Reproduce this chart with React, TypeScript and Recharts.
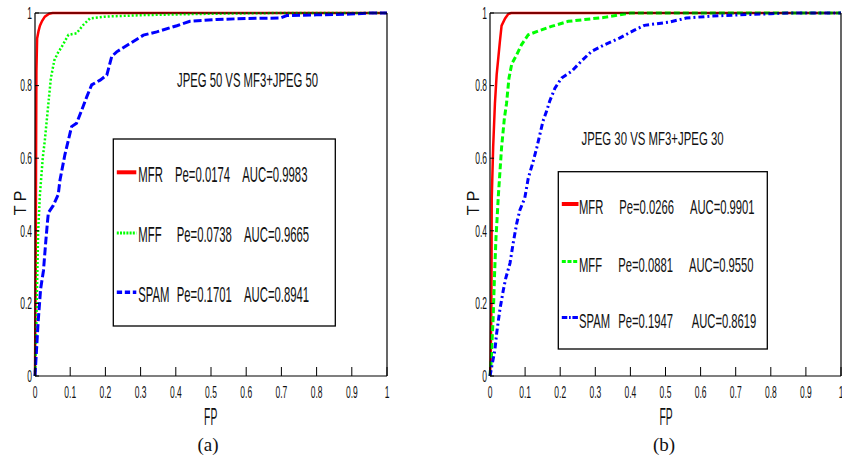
import React from "react";
import { LineChart, Line, XAxis, YAxis } from "recharts";

// axis ticks
const fpTicks = [0, 0.1, 0.2, 0.3, 0.4, 0.5, 0.6, 0.7, 0.8, 0.9, 1];
const tpTicks = [0, 0.2, 0.4, 0.6, 0.8, 1];

// (a) JPEG 50 VS MF3+JPEG 50
const mfrA = [
  { fp: 0, tp: 0 }, { fp: 0.002, tp: 0.3 }, { fp: 0.003, tp: 0.6 }, { fp: 0.004, tp: 0.84 },
  { fp: 0.006, tp: 0.93 }, { fp: 0.01, tp: 0.95 }, { fp: 0.014, tp: 0.965 }, { fp: 0.02, tp: 0.978 },
  { fp: 0.028, tp: 0.99 }, { fp: 0.04, tp: 0.998 }, { fp: 0.05, tp: 1 }, { fp: 1, tp: 1 },
];
const mffA = [
  { fp: 0, tp: 0 }, { fp: 0.003, tp: 0.1 }, { fp: 0.005, tp: 0.2 }, { fp: 0.007, tp: 0.3 },
  { fp: 0.009, tp: 0.4 }, { fp: 0.014, tp: 0.5 }, { fp: 0.022, tp: 0.6 }, { fp: 0.028, tp: 0.65 },
  { fp: 0.035, tp: 0.72 }, { fp: 0.04, tp: 0.77 }, { fp: 0.045, tp: 0.82 }, { fp: 0.055, tp: 0.87 },
  { fp: 0.065, tp: 0.89 }, { fp: 0.076, tp: 0.907 }, { fp: 0.095, tp: 0.94 }, { fp: 0.118, tp: 0.944 },
  { fp: 0.137, tp: 0.967 }, { fp: 0.156, tp: 0.985 }, { fp: 0.2, tp: 0.99 }, { fp: 0.3, tp: 0.994 },
  { fp: 0.5, tp: 0.998 }, { fp: 0.7, tp: 1 }, { fp: 1, tp: 1 },
];
const spamA = [
  { fp: 0, tp: 0 }, { fp: 0.003, tp: 0.05 }, { fp: 0.009, tp: 0.15 }, { fp: 0.016, tp: 0.24 },
  { fp: 0.024, tp: 0.29 }, { fp: 0.031, tp: 0.375 }, { fp: 0.035, tp: 0.42 }, { fp: 0.038, tp: 0.45 },
  { fp: 0.052, tp: 0.47 }, { fp: 0.066, tp: 0.5 }, { fp: 0.071, tp: 0.54 }, { fp: 0.085, tp: 0.61 },
  { fp: 0.104, tp: 0.687 }, { fp: 0.118, tp: 0.696 }, { fp: 0.133, tp: 0.733 }, { fp: 0.147, tp: 0.769 },
  { fp: 0.161, tp: 0.802 }, { fp: 0.185, tp: 0.815 }, { fp: 0.204, tp: 0.829 }, { fp: 0.218, tp: 0.88 },
  { fp: 0.232, tp: 0.893 }, { fp: 0.27, tp: 0.916 }, { fp: 0.308, tp: 0.939 }, { fp: 0.346, tp: 0.948 },
  { fp: 0.403, tp: 0.965 }, { fp: 0.44, tp: 0.977 }, { fp: 0.516, tp: 0.982 }, { fp: 0.6, tp: 0.985 },
  { fp: 0.696, tp: 0.986 }, { fp: 0.715, tp: 0.993 }, { fp: 0.8, tp: 0.995 }, { fp: 0.895, tp: 0.997 },
  { fp: 0.95, tp: 1 }, { fp: 1, tp: 1 },
];

// (b) JPEG 30 VS MF3+JPEG 30
const mfrB = [
  { fp: 0, tp: 0 }, { fp: 0.002, tp: 0.05 }, { fp: 0.004, tp: 0.2 }, { fp: 0.005, tp: 0.49 },
  { fp: 0.009, tp: 0.63 }, { fp: 0.014, tp: 0.75 }, { fp: 0.019, tp: 0.83 }, { fp: 0.024, tp: 0.88 },
  { fp: 0.028, tp: 0.92 }, { fp: 0.033, tp: 0.965 }, { fp: 0.043, tp: 0.985 }, { fp: 0.052, tp: 0.997 },
  { fp: 0.06, tp: 1 }, { fp: 1, tp: 1 },
];
const mffB = [
  { fp: 0, tp: 0 }, { fp: 0.004, tp: 0.05 }, { fp: 0.006, tp: 0.1 }, { fp: 0.009, tp: 0.16 },
  { fp: 0.013, tp: 0.28 }, { fp: 0.017, tp: 0.38 }, { fp: 0.02, tp: 0.43 }, { fp: 0.024, tp: 0.5 },
  { fp: 0.033, tp: 0.63 }, { fp: 0.041, tp: 0.71 }, { fp: 0.047, tp: 0.75 }, { fp: 0.054, tp: 0.82 },
  { fp: 0.062, tp: 0.86 }, { fp: 0.076, tp: 0.885 }, { fp: 0.09, tp: 0.913 }, { fp: 0.109, tp: 0.94 },
  { fp: 0.137, tp: 0.95 }, { fp: 0.175, tp: 0.963 }, { fp: 0.223, tp: 0.977 }, { fp: 0.27, tp: 0.982 },
  { fp: 0.327, tp: 0.988 }, { fp: 0.37, tp: 0.995 }, { fp: 0.4, tp: 1 }, { fp: 1, tp: 1 },
];
const spamB = [
  { fp: 0, tp: 0 }, { fp: 0.005, tp: 0.026 }, { fp: 0.014, tp: 0.072 }, { fp: 0.019, tp: 0.118 },
  { fp: 0.028, tp: 0.182 }, { fp: 0.038, tp: 0.237 }, { fp: 0.045, tp: 0.27 }, { fp: 0.057, tp: 0.311 },
  { fp: 0.066, tp: 0.366 }, { fp: 0.076, tp: 0.42 }, { fp: 0.085, tp: 0.457 }, { fp: 0.099, tp: 0.49 },
  { fp: 0.109, tp: 0.545 }, { fp: 0.123, tp: 0.591 }, { fp: 0.133, tp: 0.628 }, { fp: 0.142, tp: 0.665 },
  { fp: 0.151, tp: 0.702 }, { fp: 0.161, tp: 0.729 }, { fp: 0.17, tp: 0.757 }, { fp: 0.185, tp: 0.793 },
  { fp: 0.204, tp: 0.821 }, { fp: 0.232, tp: 0.839 }, { fp: 0.26, tp: 0.867 }, { fp: 0.289, tp: 0.894 },
  { fp: 0.327, tp: 0.913 }, { fp: 0.369, tp: 0.931 }, { fp: 0.41, tp: 0.952 }, { fp: 0.44, tp: 0.966 },
  { fp: 0.511, tp: 0.975 }, { fp: 0.559, tp: 0.986 }, { fp: 0.625, tp: 0.991 }, { fp: 0.71, tp: 0.995 },
  { fp: 0.8, tp: 0.998 }, { fp: 0.85, tp: 1 }, { fp: 1, tp: 1 },
];

const methods = ["MFR", "MFF", "SPAM"];
const peA = ["0.0174", "0.0738", "0.1701"];
const aucA = ["0.9983", "0.9665", "0.8941"];
const peB = ["0.0266", "0.0881", "0.1947"];
const aucB = ["0.9901", "0.9550", "0.8619"];
const titleA = "JPEG 50 VS MF3+JPEG 50";
const titleB = "JPEG 30 VS MF3+JPEG 30";

const RED = "#ff0000";
const GREEN = "#00ff00";
const BLUE = "#0000ff";
const SANS = "'Liberation Sans', Arial, sans-serif";
const INK = "#111";

const stylesA = [
  { stroke: RED, w: 2.5, dash: undefined, legW: 4, legDash: undefined },
  { stroke: GREEN, w: 2.5, dash: "2 2", legW: 3, legDash: "2 1.2" },
  { stroke: BLUE, w: 3, dash: "8 3", legW: 3.5, legDash: "5.3 2.7" },
];
const stylesB = [
  { stroke: RED, w: 2.5, dash: undefined, legW: 4, legDash: undefined },
  { stroke: GREEN, w: 3, dash: "6 3", legW: 3, legDash: "4 1.7" },
  { stroke: BLUE, w: 3, dash: "6 3 2 3", legW: 3, legDash: "5.5 1.7 1.7 1.7" },
];

// the source figure is squeezed sideways, so text is scaled on x only
const SqText = ({ x, y, size, s, anchor = "start", children }: any) => (
  <text
    transform={`translate(${x},${y}) scale(${s},1)`}
    fontSize={size}
    fontFamily={SANS}
    textAnchor={anchor}
    fill={INK}
  >
    {children}
  </text>
);

const XTick = (p: any) => (
  <SqText x={p.x} y={p.y + 12} size={16} s={0.53} anchor="middle">
    {String(p.payload.value)}
  </SqText>
);

const YTick = (p: any) => (
  <SqText x={p.x} y={p.y + 5.8} size={16} s={0.53} anchor="end">
    {String(p.payload.value)}
  </SqText>
);

const axisLine = { stroke: "#000", strokeWidth: 1.2 };
const tickLine = { stroke: "#000", strokeWidth: 1 };

function Panel({ left, width, margin, series, styles }: any) {
  return (
    <div style={{ position: "absolute", left, top: 0 }}>
      <LineChart width={width} height={458} margin={margin}>
        <XAxis
          xAxisId="b"
          dataKey="fp"
          type="number"
          domain={[0, 1]}
          ticks={fpTicks}
          interval={0}
          height={30}
          tickSize={-9}
          tickMargin={19}
          axisLine={axisLine}
          tickLine={tickLine}
          tick={(p: any) => <XTick {...p} />}
        />
        <XAxis
          xAxisId="t"
          orientation="top"
          type="number"
          domain={[0, 1]}
          ticks={fpTicks}
          interval={0}
          height={5}
          tickSize={-7}
          axisLine={axisLine}
          tickLine={tickLine}
          tick={false}
        />
        <YAxis
          yAxisId="l"
          type="number"
          domain={[0, 1]}
          ticks={tpTicks}
          interval={0}
          width={30}
          tickSize={-4}
          tickMargin={7}
          axisLine={axisLine}
          tickLine={tickLine}
          tick={(p: any) => <YTick {...p} />}
        />
        <YAxis
          yAxisId="r"
          orientation="right"
          type="number"
          domain={[0, 1]}
          ticks={tpTicks}
          interval={0}
          width={5}
          tickSize={-4}
          axisLine={axisLine}
          tickLine={tickLine}
          tick={false}
        />
        {series.map((d: any, i: number) => (
          <Line
            key={methods[i]}
            xAxisId="b"
            yAxisId="l"
            data={d}
            dataKey="tp"
            type="linear"
            stroke={styles[i].stroke}
            strokeWidth={styles[i].w}
            strokeDasharray={styles[i].dash}
            dot={false}
            activeDot={false}
            isAnimationActive={false}
          />
        ))}
      </LineChart>
    </div>
  );
}

function LegendBox({ box, rows, styles, pe, auc, size, s }: any) {
  return (
    <g>
      <rect x={box.x} y={box.y} width={box.w} height={box.h} fill="#fff" stroke="#000" strokeWidth={1.3} />
      {methods.map((m, i) => (
        <g key={m}>
          <line
            x1={box.x + 3.5}
            x2={box.x + 3.5 + rows.sample}
            y1={rows.base[i] - rows.lift}
            y2={rows.base[i] - rows.lift}
            stroke={styles[i].stroke}
            strokeWidth={styles[i].legW}
            strokeDasharray={styles[i].legDash}
          />
          <SqText x={rows.name} y={rows.base[i]} size={size} s={s}>{m}</SqText>
          <SqText x={rows.pe[i]} y={rows.base[i]} size={size} s={s}>{`Pe=${pe[i]}`}</SqText>
          <SqText x={rows.auc[i]} y={rows.base[i]} size={size} s={s}>{`AUC=${auc[i]}`}</SqText>
        </g>
      ))}
    </g>
  );
}

export default function App() {
  return (
    <div style={{ position: "absolute", left: 0, top: 0, width: 842, height: 458, background: "#fff" }}>
      <Panel
        left={0}
        width={420}
        margin={{ top: 8, right: 28, bottom: 52, left: 5 }}
        series={[mfrA, mffA, spamA]}
        styles={stylesA}
      />
      <Panel
        left={420}
        width={422}
        margin={{ top: 8, right: -4, bottom: 52, left: 40 }}
        series={[mfrB, mffB, spamB]}
        styles={stylesB}
      />
      <svg width={842} height={458} style={{ position: "absolute", left: 0, top: 0, pointerEvents: "none" }}>
        <SqText x={247.5} y={87.3} size={19.5} s={0.58} anchor="middle">{titleA}</SqText>
        <SqText x={652.5} y={145} size={19} s={0.6} anchor="middle">{titleB}</SqText>

        <LegendBox
          box={{ x: 113.3, y: 139, w: 222, h: 187 }}
          rows={{ base: [181.7, 242.3, 301.7], lift: 9.4, sample: 19.5, name: 138.3, pe: [175, 176.7, 176.7], auc: [242.3, 244, 244] }}
          styles={stylesA}
          pe={peA}
          auc={aucA}
          size={22}
          s={0.515}
        />
        <LegendBox
          box={{ x: 558.3, y: 171.7, w: 209, h: 177.3 }}
          rows={{ base: [214.3, 271.7, 327.7], lift: 10.3, sample: 16.7, name: 579, pe: [619.3, 618.3, 618.3], auc: [690, 689, 691.7] }}
          styles={stylesB}
          pe={peB}
          auc={aucB}
          size={21}
          s={0.535}
        />

        <SqText x={210.7} y={425} size={23} s={0.45} anchor="middle">FP</SqText>
        <SqText x={666} y={425} size={23} s={0.45} anchor="middle">FP</SqText>

        <text transform="translate(25.5,203) rotate(-90)" fontSize={16} fontFamily={SANS} textAnchor="middle" fill={INK}>T P</text>
        <text transform="translate(478.5,203) rotate(-90)" fontSize={16} fontFamily={SANS} textAnchor="middle" fill={INK}>T P</text>

        <text x={208} y={450.5} fontSize={19} fontFamily="'Liberation Serif', 'Times New Roman', serif" textAnchor="middle" fill={INK}>(a)</text>
        <text x={664} y={450.5} fontSize={19} fontFamily="'Liberation Serif', 'Times New Roman', serif" textAnchor="middle" fill={INK}>(b)</text>
      </svg>
    </div>
  );
}
